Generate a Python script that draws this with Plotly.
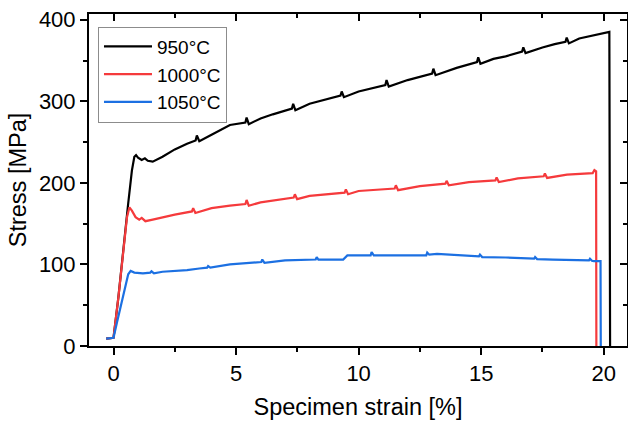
import plotly.graph_objects as go

# ---- data ----
series_names = ["950°C", "1000°C", "1050°C"]

strain_950 = [-0.3, 0.0, 0.2, 0.4, 0.6, 0.75, 0.85, 0.92, 1.0, 1.15, 1.28, 1.4, 1.6, 2.0, 2.5, 3.0,
              3.35, 3.4, 3.5, 4.0, 4.75, 5.38, 5.43, 5.52, 6.0, 6.5, 7.0, 7.28, 7.33, 7.42, 8.0, 8.5,
              9.26, 9.31, 9.4, 10.0, 10.5, 11.09, 11.14, 11.23, 12.0, 12.5, 13.0, 13.05, 13.14, 14.0,
              14.83, 14.88, 14.97, 15.5, 16.0, 16.67, 16.72, 16.81, 17.5, 18.0, 18.44, 18.49, 18.58,
              19.0, 19.5, 20.23, 20.26]
stress_950 = [9, 10, 60, 120, 175, 215, 232, 234, 231, 228, 230, 227, 226, 232, 241, 248,
              252, 258, 251, 259, 271, 274, 280, 272, 279, 284, 288, 291, 297, 289, 297, 301,
              307, 312, 305, 312, 316, 320, 326, 318, 326, 330, 334, 340, 332, 341,
              348, 354, 346, 352, 355, 361, 366, 359, 366, 370, 373, 378, 371, 377, 380, 385, 0]

strain_1000 = [-0.3, 0.0, 0.2, 0.4, 0.55, 0.65, 0.75, 0.9, 1.05, 1.15, 1.3, 1.6, 2.0, 2.5, 3.2, 3.25,
               3.34, 4.0, 4.75, 5.38, 5.43, 5.52, 6.0, 7.0, 7.35, 7.4, 7.49, 8.0, 9.0, 9.43, 9.48,
               9.57, 10.0, 11.0, 11.47, 11.52, 11.61, 12.5, 13.54, 13.59, 13.68, 14.5, 15.58, 15.63,
               15.72, 16.5, 17.55, 17.6, 17.69, 18.5, 19.55, 19.62, 19.69, 19.7]
stress_1000 = [9, 10, 60, 120, 158, 170, 166, 158, 155, 157, 153, 155, 158, 161, 165, 169,
               163, 169, 172, 174, 179, 172, 176, 180, 182, 186, 180, 184, 187, 188, 192,
               186, 190, 191.5, 193, 197, 191, 196, 199, 202.5, 197, 201, 203, 206.5,
               201, 205.5, 208, 211.5, 206, 210, 212, 215.5, 214, 0]

strain_1050 = [-0.3, 0.0, 0.15, 0.3, 0.45, 0.6, 0.7, 0.85, 1.2, 1.5, 1.55, 1.65, 2.0, 3.0, 3.5, 3.82,
               3.86, 3.95, 4.75, 5.5, 6.03, 6.07, 6.16, 7.0, 8.0, 8.25, 8.29, 8.36, 9.37, 9.54, 10.0,
               10.49, 10.53, 10.62, 11.5, 12.5, 12.76, 12.8, 12.88, 13.2, 14.0, 14.91, 14.95, 15.04,
               16.0, 17.16, 17.2, 17.28, 17.93, 19.4, 19.44, 19.52, 19.6, 19.87, 19.88]
stress_1050 = [9, 10, 30, 50, 72, 88, 92, 90, 89, 90, 91.5, 89, 91, 93, 95, 96,
               98, 96, 100, 102, 103, 106, 102, 105, 106, 106, 109, 106, 106, 111, 111,
               111, 115, 111, 111, 111, 111, 114.5, 112, 113, 111.5, 110, 112, 109,
               108.5, 107, 109, 106.5, 106, 105, 107, 104.5, 104, 104, 0]

x_ticks = [0, 5, 10, 15, 20]
y_ticks = [0, 100, 200, 300, 400]

colors = ["#000000", "#f53a3c", "#1c70e2"]
FONT = "Liberation Sans, Arial, sans-serif"

fig = go.Figure()
for name, xs, ys, c in zip(series_names,
                           [strain_950, strain_1000, strain_1050],
                           [stress_950, stress_1000, stress_1050], colors):
    fig.add_trace(go.Scatter(x=xs, y=ys, mode="lines", name=name,
                             line=dict(color=c, width=2.2)))

# dummy trace to activate mirror axes with inward ticks
fig.add_trace(go.Scatter(x=[None], y=[None], xaxis="x2", yaxis="y2",
                         showlegend=False, hoverinfo="skip"))

xr = [-1, 20.95]
yr = [0, 407]

fig.update_layout(
    width=628, height=427,
    margin=dict(l=89, r=1, t=14, b=81),
    paper_bgcolor="white", plot_bgcolor="white",
    font=dict(family=FONT, color="black", size=20),
    showlegend=True,
    legend=dict(x=0.0167, y=0.962, xanchor="left", yanchor="top",
                bordercolor="#8c8c8c", borderwidth=1, bgcolor="white",
                font=dict(size=19, family=FONT), tracegroupgap=0, itemwidth=48),
    xaxis=dict(range=xr, tickvals=x_ticks, ticks="outside", ticklen=7, tickwidth=1.5,
               tickcolor="black", showline=True, linecolor="black", linewidth=2,
               showgrid=False, zeroline=False, tickfont=dict(size=22),
               minor=dict(dtick=2.5, tick0=0, ticks="outside", ticklen=4, tickwidth=1.5,
                          tickcolor="black", showgrid=False),
               title=dict(text="Specimen strain [%]", font=dict(size=23.5), standoff=13)),
    yaxis=dict(range=yr, tickvals=y_ticks, ticks="outside", ticklen=7, tickwidth=1.5,
               tickcolor="black", showline=True, linecolor="black", linewidth=2,
               showgrid=False, zeroline=False, tickfont=dict(size=22),
               minor=dict(dtick=50, tick0=0, ticks="outside", ticklen=4, tickwidth=1.5,
                          tickcolor="black", showgrid=False),
               title=dict(text="Stress [MPa]", font=dict(size=23.5), standoff=6)),
    xaxis2=dict(range=xr, overlaying="x", side="top", anchor="y2", tickvals=x_ticks,
                ticks="inside", ticklen=7, tickwidth=1.5, tickcolor="black",
                showticklabels=False, showline=True, linecolor="black", linewidth=2,
                showgrid=False, zeroline=False,
                minor=dict(dtick=2.5, tick0=0, ticks="inside", ticklen=4, tickwidth=1.5,
                           tickcolor="black", showgrid=False)),
    yaxis2=dict(range=yr, overlaying="y", side="right", anchor="x2", tickvals=y_ticks,
                ticks="inside", ticklen=7, tickwidth=1.5, tickcolor="black",
                showticklabels=False, showline=True, linecolor="black", linewidth=2,
                showgrid=False, zeroline=False,
                minor=dict(dtick=50, tick0=0, ticks="inside", ticklen=4, tickwidth=1.5,
                           tickcolor="black", showgrid=False)),
)

fig.write_html("out.html")
